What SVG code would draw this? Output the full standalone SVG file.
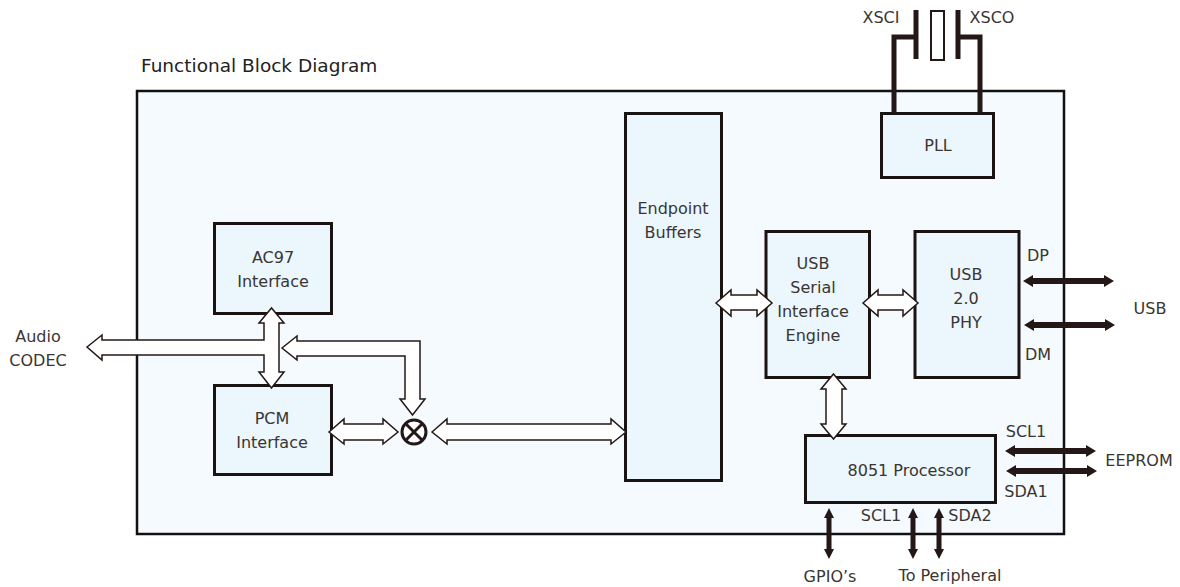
<svg xmlns="http://www.w3.org/2000/svg" width="1180" height="587" viewBox="0 0 1180 587">
<style>
text{font-family:"DejaVu Sans",Verdana,sans-serif;font-size:16px;fill:#3a3532;text-anchor:middle}
.s{text-anchor:start;font-size:18.500px;fill:#222}
.b{fill:#ebf6fd;stroke:#1a1311;stroke-width:3}
.w{fill:#fff;stroke:#231815;stroke-width:1.5;stroke-linejoin:miter}
.k{fill:#231815}
.l{fill:none;stroke:#231815;stroke-width:5}
</style>
<defs>
<path id="dh" class="k" d="M0 0L10 -6V-3H81V-6L91 0L81 6V3H10V6Z"/>
<path id="dv" class="k" d="M0 0L5 10H2.500V41H5L0 51L-5 41H-2.500V10H-5Z"/>
</defs>
<rect width="1180" height="587" fill="#fff"/>
<rect id="outer" x="137" y="91" width="927" height="443" fill="#f5faff" stroke="#111" stroke-width="2.500"/>
<text class="s" x="141" y="72">Functional Block Diagram</text>
<g id="crystal"><rect x="931" y="11" width="13" height="49" fill="#fff" stroke="#231815" stroke-width="2"/></g>
<g id="xsci"><text x="881" y="23">XSCI</text></g>
<g id="xsco"><text x="992" y="23">XSCO</text></g>
<g id="pll"><rect class="b" x="881.500" y="113.500" width="112" height="64"/><text x="938" y="151">PLL</text></g>
<g id="ac97"><rect class="b" x="214.500" y="223.500" width="117" height="90"/><text x="273" y="263">AC97</text><text x="273" y="287">Interface</text></g>
<g id="pcm"><rect class="b" x="214.500" y="385.500" width="117" height="89"/><text x="272" y="424">PCM</text><text x="272" y="448">Interface</text></g>
<g id="mixer"><circle cx="414" cy="432" r="12" fill="#fff" stroke="#231815" stroke-width="3"/><path d="M405.500 423.500L422.500 440.500M422.500 423.500L405.500 440.500" stroke="#231815" stroke-width="3"/></g>
<g id="endpoint"><rect class="b" x="625.500" y="113.500" width="96" height="367"/><text x="673" y="214">Endpoint</text><text x="673" y="238">Buffers</text></g>
<g id="sie"><rect class="b" x="766" y="231.500" width="103.500" height="146"/><text x="813" y="269">USB</text><text x="813" y="293">Serial</text><text x="813" y="317">Interface</text><text x="813" y="341">Engine</text></g>
<g id="phy"><rect class="b" x="915" y="231.500" width="104" height="146"/><text x="966" y="280">USB</text><text x="966" y="304">2.0</text><text x="966" y="328">PHY</text></g>
<g id="cpu"><rect class="b" x="805.500" y="435.500" width="190" height="67"/><text x="909" y="476">8051 Processor</text></g>
<g id="labels">
<text x="38" y="342">Audio</text><text x="38" y="366">CODEC</text>
<text x="1038" y="261">DP</text><text x="1038" y="360">DM</text><text x="1150" y="314">USB</text>
<text x="1026" y="437">SCL1</text><text x="1026" y="497">SDA1</text><text x="1139" y="466">EEPROM</text>
<text x="881" y="521">SCL1</text><text x="970" y="521">SDA2</text>
<text x="830" y="582">GPIO’s</text><text x="950" y="581">To Peripheral</text>
</g>
<g id="connectors">
<path class="l" d="M916 37H894V113M958 37H980V113"/>
<path class="l" d="M916 10V59M958 10V59"/>
<path class="w" d="M87 347L102 335V340H264V323H259L271.500 308L284 323H279V372H284L271.500 388L259 372H264V355H102V360Z"/>
<path class="w" d="M282 348L297 336V341H420V399H425L412.500 415L400 399H405V356H297V360Z"/>
<path class="w" d="M329 432L344 419V424H383V419L398 432L383 444V440H344V444Z"/>
<path class="w" d="M432 432L447 419V424H611V419L626 432L611 444V440H447V444Z"/>
<path class="w" d="M716 303L731 290V295H757V290L772 303L757 316V310H731V316Z"/>
<path class="w" d="M863 303L878 290V295H903V290L918 303L903 316V310H878V316Z"/>
<path class="w" d="M833.500 374L846 389H842V424H846L833.500 439L821 424H826V389H821Z"/>
<use href="#dh" x="1023" y="281"/>
<use href="#dh" x="1024" y="325"/>
<use href="#dh" x="1005" y="451"/>
<use href="#dh" x="1006" y="471"/>
<use href="#dv" x="829" y="508"/>
<use href="#dv" x="913" y="508"/>
<use href="#dv" x="939" y="508"/>
</g>
</svg>
